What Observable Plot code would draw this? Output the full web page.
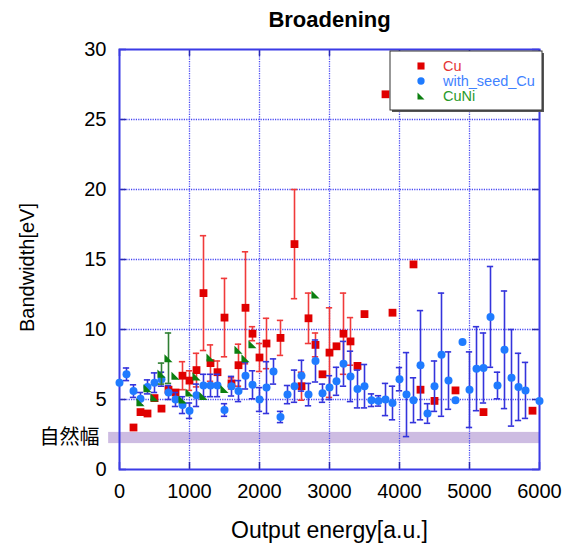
<!DOCTYPE html>
<html>
<head>
<meta charset="utf-8">
<script src="https://cdn.jsdelivr.net/npm/d3@7"></script>
<script src="https://cdn.jsdelivr.net/npm/@observablehq/plot@0.6"></script>
<style>
  body { margin: 0; background: #fff; }
  svg { display: block; }
</style>
</head>
<body>
<div id="chart"></div>
<script>
// Broadening measurements: bandwidth [eV] vs output energy [a.u.]

const seriesNames = ["Cu", "with_seed_Cu", "CuNi"];

// Cu
const cuX = [200, 300, 400, 500, 600, 700, 800, 900, 1000, 1100, 1200, 1300, 1400, 1500, 1600, 1700, 1800, 1900, 2000,
  2100, 2300, 2500, 2600, 2700, 2800, 2900, 3000, 3100, 3200, 3300, 3400, 3500, 3800, 3900, 4200, 4300, 4500, 4800, 5200, 5900];
const cuY = [3.0, 4.1, 4.0, 5.1, 4.35, 5.7, 5.5, 6.7, 6.35, 7.1, 12.6, 7.6, 6.95, 10.85, 6.15, 7.45, 11.55, 9.7, 8.0,
  9.0, 9.4, 16.1, 5.95, 10.8, 8.9, 6.8, 8.35, 8.8, 9.7, 9.15, 7.4, 11.1, 26.8, 11.2, 14.65, 5.7, 4.9, 5.65, 4.1, 4.2];
const cuErr = [0, 0, 0, 0, 0, 0, 0, 1.0, 0.7, 1.2, 4.1, 1.3, 0.8, 2.8, 0.4, 1.5, 4.0, 0.5, 1.0,
  1.8, 1.25, 3.9, 1.0, 1.8, 0.85, 0, 3.2, 0, 2.9, 1.7, 0, 0, 0, 0, 0, 0, 0, 0, 0, 0];

// with_seed_Cu
const seedX = [0, 100, 200, 300, 400, 500, 600, 700, 800, 900, 1000, 1100, 1200, 1300, 1400, 1500, 1600, 1700, 1800, 1900,
  2000, 2100, 2200, 2300, 2400, 2500, 2600, 2700, 2800, 2900, 3000, 3100, 3200, 3300, 3400, 3500, 3600, 3700, 3800, 3900,
  4000, 4100, 4200, 4300, 4400, 4500, 4600, 4700, 4800, 4900, 5000, 5100, 5200, 5300, 5400, 5500, 5600, 5700, 5800, 6000];
const seedY = [6.2, 6.8, 5.6, 5.05, 5.9, 6.2, 6.45, 5.5, 5.0, 4.6, 4.2, 5.3, 6.0, 6.0, 6.0, 4.25, 5.95, 5.6, 6.7, 6.05,
  5.0, 5.85, 7.0, 3.75, 5.35, 5.95, 6.7, 5.35, 7.75, 5.45, 5.85, 6.3, 7.55, 6.65, 5.75, 5.95, 4.95, 4.9, 5.0, 4.75,
  6.45, 5.35, 4.95, 7.45, 4.0, 5.95, 8.2, 6.35, 4.95, 9.1, 5.7, 7.2, 7.25, 10.9, 6.0, 8.55, 6.55, 5.9, 5.65, 4.9];
const seedErr = [0, 0.45, 0.45, 0.45, 0.5, 0.7, 0.5, 0.5, 0.5, 0.6, 0.55, 0.8, 0.8, 0.8, 0.8, 0.45, 0.7, 0.75, 0.95, 1.0,
  0.85, 1.85, 0.9, 0.4, 0.65, 1.15, 1.1, 0.8, 1.5, 0.65, 0.85, 1.0, 1.6, 1.8, 1.35, 1.55, 0.45, 0.37, 1.15, 1.2,
  0.83, 3.0, 1.6, 3.9, 0.7, 1.8, 4.4, 2.05, 0, 0, 2.7, 3.0, 2.5, 3.6, 0.95, 4.2, 3.45, 2.4, 2.0, 0];

// CuNi
const cuniX = [300, 400, 500, 600, 700, 800, 900, 1000, 1100, 1200, 1300, 1500, 1700, 1800, 1900, 2800];
const cuniY = [4.8, 5.8, 5.15, 6.85, 7.95, 6.7, 5.0, 5.5, 6.65, 5.25, 8.0, 5.75, 8.55, 7.95, 8.95, 12.5];
const cuniErr = [0, 0, 0, 0.75, 1.8, 0, 0, 0, 0, 0, 0, 0, 0, 0, 0, 0];

// Natural linewidth band
const naturalLabel = "自然幅";
const naturalLo = 1.85;
const naturalHi = 2.65;

const xTicks = [0, 1000, 2000, 3000, 4000, 5000, 6000];
const yTicks = [0, 5, 10, 15, 20, 25, 30];

const colors = {
  Cu: { mark: "#e00000", bar: "#f03a3a", text: "#e53535" },
  with_seed_Cu: { mark: "#1f7bff", bar: "#3434dc", text: "#3f82ff" },
  CuNi: { mark: "#0c7f10", bar: "#2f7f33", text: "#2a9a2a" }
};

const rows = (xs, ys, es) => xs.map((x, i) => ({ x, y: ys[i], e: es[i] }));
const cu = rows(cuX, cuY, cuErr);
const seed = rows(seedX, seedY, seedErr);
const cuni = rows(cuniX, cuniY, cuniErr);

// right-angled triangle marker (◣)
const rightTriangle = {
  draw(ctx, size) {
    const s = Math.sqrt(size) * 0.95;
    ctx.moveTo(-s / 2, -s / 2);
    ctx.lineTo(s / 2, s / 2);
    ctx.lineTo(-s / 2, s / 2);
    ctx.closePath();
  }
};

const capHalf = 45;
function errorBars(data, color) {
  const d = data.filter(r => r.e > 0);
  return [
    Plot.ruleX(d, { x: "x", y1: r => r.y - r.e, y2: r => r.y + r.e, stroke: color, strokeWidth: 1.6 }),
    Plot.ruleY(d, { y: r => r.y + r.e, x1: r => r.x - capHalf, x2: r => r.x + capHalf, stroke: color, strokeWidth: 1.6 }),
    Plot.ruleY(d, { y: r => r.y - r.e, x1: r => r.x - capHalf, x2: r => r.x + capHalf, stroke: color, strokeWidth: 1.6 })
  ];
}

const gridColor = "#4646f2";
const frameColor = "#3b3be6";
const font = "'Liberation Sans', Arial, sans-serif";

const chart = Plot.plot({
  width: 575,
  height: 544,
  marginTop: 49,
  marginBottom: 75,
  marginLeft: 119,
  marginRight: 36,
  style: { fontFamily: font, background: "#fff", color: "#000" },
  x: { domain: [0, 6000] },
  y: { domain: [0, 30] },
  marks: [
    // natural width band, drawn slightly past the left axis
    Plot.rect([{ lo: naturalLo, hi: naturalHi }], {
      x1: () => -155, x2: () => 6000, y1: "lo", y2: "hi", fill: "#cdbce2", clip: false
    }),
    // dotted grid
    Plot.ruleX(xTicks.slice(1, -1), { stroke: gridColor, strokeWidth: 1.3, strokeDasharray: "1.2,1.2" }),
    Plot.ruleY(yTicks.slice(1, -1), { stroke: gridColor, strokeWidth: 1.3, strokeDasharray: "1.2,1.2" }),
    // inward major ticks on all four sides
    Plot.ruleX(xTicks, { y1: 0, y2: 0.5, stroke: "#2a2ab0", strokeWidth: 1.5 }),
    Plot.ruleX(xTicks, { y1: 30, y2: 29.5, stroke: "#2a2ab0", strokeWidth: 1.5 }),
    Plot.ruleY(yTicks, { x1: 0, x2: 100, stroke: "#2a2ab0", strokeWidth: 1.5 }),
    Plot.ruleY(yTicks, { x1: 6000, x2: 5900, stroke: "#2a2ab0", strokeWidth: 1.5 }),
    Plot.frame({ stroke: frameColor, strokeWidth: 2 }),
    // axes
    Plot.axisX(xTicks, { tickSize: 0, tickPadding: 14, fontSize: 20, label: null, tickFormat: d => String(d) }),
    Plot.axisY(yTicks, { tickSize: 0, tickPadding: 13, fontSize: 20, label: null, tickFormat: d => String(d) }),
    // Cu
    ...errorBars(cu, colors.Cu.bar),
    Plot.dot(cu, { x: "x", y: "y", symbol: "square", r: 4.4, fill: colors.Cu.mark }),
    // with_seed_Cu
    ...errorBars(seed, colors.with_seed_Cu.bar),
    Plot.dot(seed, { x: "x", y: "y", symbol: "circle", r: 4, fill: colors.with_seed_Cu.mark }),
    // CuNi
    ...errorBars(cuni, colors.CuNi.bar),
    Plot.dot(cuni, { x: "x", y: "y", symbol: rightTriangle, r: 4.8, fill: colors.CuNi.mark }),
    // labels
    Plot.text([naturalLabel], {
      y: (naturalLo + naturalHi) / 2, frameAnchor: "left", dx: -20, textAnchor: "end",
      fontSize: 20, fontFamily: "'Noto Sans CJK JP', sans-serif", fill: "#000"
    }),
    Plot.text(["Broadening"], {
      frameAnchor: "top", dy: -30, lineAnchor: "middle", fontSize: 22, fontWeight: "bold", fill: "#000"
    }),
    Plot.text(["Output energy[a.u.]"], {
      frameAnchor: "bottom", dy: 61, lineAnchor: "middle", fontSize: 23, fill: "#000"
    }),
    Plot.text(["Bandwidth[eV]"], {
      frameAnchor: "left", dx: -92, dy: 8, rotate: -90, textAnchor: "middle", lineAnchor: "middle",
      fontSize: 20, fill: "#000"
    })
  ]
});

// legend box
const svg = d3.select(chart);
const lg = svg.append("g").attr("transform", "translate(390,51)");
lg.append("rect").attr("x", 2).attr("y", 2).attr("width", 152).attr("height", 59).attr("fill", "#555");
lg.append("rect").attr("x", 0).attr("y", 0).attr("width", 152).attr("height", 59)
  .attr("fill", "#fff").attr("stroke", "#333").attr("stroke-width", 1);
const symbolPaths = {
  Cu: d3.symbol(d3.symbolSquare, 50)(),
  with_seed_Cu: d3.symbol(d3.symbolCircle, 42)(),
  CuNi: d3.symbol(rightTriangle, 55)()
};
seriesNames.forEach((name, i) => {
  const y = 15 + i * 15;
  lg.append("path").attr("d", symbolPaths[name]).attr("transform", `translate(31,${y})`)
    .attr("fill", colors[name].mark);
  lg.append("text").attr("x", 53).attr("y", y).attr("dy", "0.36em")
    .attr("text-anchor", "start")
    .attr("font-size", 14.5).attr("font-family", font)
    .attr("fill", colors[name].text).text(name);
});

document.getElementById("chart").appendChild(chart);
</script>
</body>
</html>
